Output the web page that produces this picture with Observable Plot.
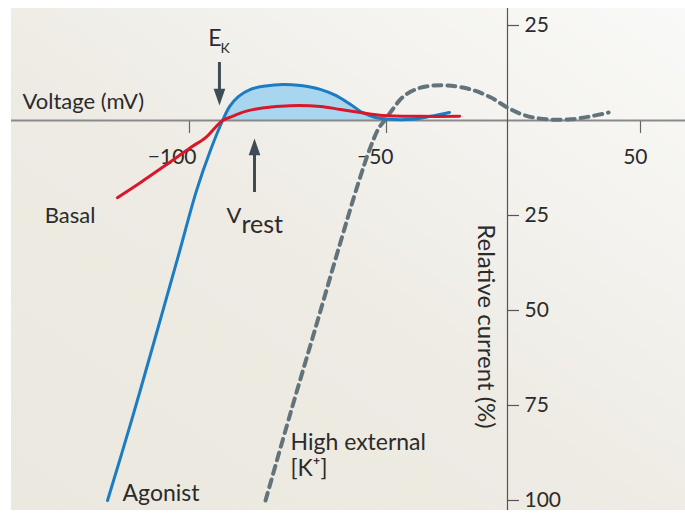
<!DOCTYPE html>
<html>
<head>
<meta charset="utf-8">
<script src="https://cdn.jsdelivr.net/npm/d3@7"></script>
<script src="https://cdn.jsdelivr.net/npm/@observablehq/plot@0.6"></script>
<style>
  html, body { margin: 0; padding: 0; background: #ffffff; }
  #wrap { position: relative; width: 685px; height: 513px; overflow: hidden; }
  #panel { position: absolute; left: 11px; top: 8px; width: 674px; height: 502px;
    background: linear-gradient(35deg, #ebe8df 0%, #eeebe4 45%, #f4f3ef 75%, #f9f9f7 100%); }
  #chart { position: absolute; left: 0; top: 0; }
</style>
</head>
<body>
<div id="wrap"><div id="panel"></div><div id="chart"></div></div>
<script>
// Voltage (mV) / relative current (%)
const agonistV = [-120.8, -114.7, -108.9, -102.8, -98.2, -94.7, -91.6, -89.8, -87.6, -84.5, -80.7, -76.4, -71.8, -66.8, -62.9, -59.1, -56.1, -52.8, -48.3, -40.1, -31.8, -24.0];
const agonistI = [-100, -78.9, -57.9, -35.5, -18.4, -7.9, 0, 3.7, 6.3, 8.2, 9.1, 9.5, 9.2, 8.2, 6.6, 4.2, 2.1, 0.8, 0.3, 0.3, 1.1, 2.1];

const basalV = [-118.3, -112.4, -106.1, -99.7, -95.9, -93.7, -91.6, -89.1, -85.8, -81.5, -74.4, -66.8, -61.7, -56.6, -50.8, -36.0, -19.8];
const basalI = [-20.3, -16.3, -11.8, -7.1, -4.5, -2.1, 0, 1.1, 2.4, 3.3, 3.9, 3.7, 2.9, 2.1, 1.3, 1.1, 1.1];

const highKV = [-80.7, -74.4, -68.0, -61.7, -57.1, -54.1, -52.0, -50.5, -47.5, -43.4, -38.0, -31.8, -24.8, -15.3, -7.0, 0, 6.8, 15.0, 23.7, 31.2, 38.0];
const highKI = [-100, -77.1, -54.5, -32.1, -16.3, -7.1, -2.1, 0, 2.9, 6.1, 8.2, 9.1, 9.2, 8.2, 6.1, 3.4, 1.3, 0.3, 0.3, 1.1, 2.1];

const xTicks = [-100, -50, 50];
const xTickLabels = ["\u2212100", "\u221250", "50"];
const yTicks = [25, -25, -50, -75, -100];
const yTickLabels = ["25", "25", "50", "75", "100"];

const ekVoltage = -92.4;     // E_K marker
const vrestVoltage = -83.5;  // V_rest marker

const agonist = agonistV.map((v, i) => ({v, i: agonistI[i]}));
const basal = basalV.map((v, i) => ({v, i: basalI[i]}));
const highK = highKV.map((v, i) => ({v, i: highKI[i]}));
const agonistFill = agonist.filter(d => d.v >= -91.6 && d.v <= -48.3);

const ink = "#2b2b2b";
const arrowCol = "#3e4d55";
const headDown = {
  draw(ctx, size) {
    const s = Math.sqrt(size / Math.PI);
    ctx.moveTo(0, 0);
    ctx.lineTo(-0.65 * s, -1.85 * s);
    ctx.lineTo(0.65 * s, -1.85 * s);
    ctx.closePath();
  }
};

const chart = Plot.plot({
  width: 685,
  height: 513,
  marginLeft: 11, marginTop: 8, marginRight: 0, marginBottom: 3,
  x: {type: "linear", domain: [-100, -50, 0, 50], range: [189, 386, 507, 640], axis: null},
  y: {type: "linear", domain: [-100, 25], range: [500, 25], axis: null},
  style: {background: "transparent", fontFamily: "Lato, 'Open Sans', sans-serif", color: ink},
  marks: [
    Plot.areaY(agonistFill, {x: "v", y: "i", curve: "catmull-rom", fill: "#a9d6ef"}),
    // axes
    Plot.ruleY([0], {stroke: "#8a8a8a", strokeWidth: 2}),
    Plot.ruleX([0], {stroke: "#555", strokeWidth: 1.2}),
    Plot.ruleX(xTicks, {x: d => d, y1: 0, y2: 0, insetTop: 1, insetBottom: -13, stroke: "#666", strokeWidth: 1.2}),
    Plot.ruleY(yTicks, {y: d => d, x1: 0, x2: 0, insetLeft: 0, insetRight: -12, stroke: "#555", strokeWidth: 1.2}),
    Plot.text(xTicks, {x: d => d, y: 0, text: (d, i) => xTickLabels[i], textAnchor: "end", lineAnchor: "bottom", dx: 7, dy: 43, fontSize: 21, fill: ink}),
    Plot.text(yTicks, {x: 0, y: d => d, text: (d, i) => yTickLabels[i], textAnchor: "start", dx: 17, fontSize: 21, fill: ink}),
    // curves
    Plot.line(highK, {x: "v", y: "i", curve: "catmull-rom", stroke: "#63737b", strokeWidth: 4, strokeDasharray: "8,6"}),
    Plot.line(agonist, {x: "v", y: "i", curve: "catmull-rom", stroke: "#1b7cc2", strokeWidth: 3}),
    Plot.line(basal, {x: "v", y: "i", curve: "catmull-rom", stroke: "#d8182a", strokeWidth: 3}),
    // E_K arrow
    Plot.ruleX([ekVoltage], {x: d => d, y1: 0, y2: 0, insetTop: -58, insetBottom: 26, stroke: arrowCol, strokeWidth: 3}),
    Plot.dot([ekVoltage], {x: d => d, y: 0, dy: -15, r: 9, symbol: headDown, fill: arrowCol, stroke: "none"}),
    Plot.text([ekVoltage], {x: d => d, y: 0, text: ["E"], textAnchor: "end", lineAnchor: "bottom", dx: 2, dy: -75, fontSize: 23, fill: ink}),
    Plot.text([ekVoltage], {x: d => d, y: 0, text: ["K"], textAnchor: "start", lineAnchor: "bottom", dx: 1, dy: -68, fontSize: 14, fill: ink}),
    // V_rest arrow
    Plot.ruleX([vrestVoltage], {x: d => d, y1: 0, y2: 0, insetTop: 30, insetBottom: -72, stroke: arrowCol, strokeWidth: 3}),
    Plot.dot([vrestVoltage], {x: d => d, y: 0, dy: 18, r: 9, rotate: 180, symbol: headDown, fill: arrowCol, stroke: "none"}),
    Plot.text([vrestVoltage], {x: d => d, y: 0, text: ["V"], textAnchor: "end", lineAnchor: "bottom", dx: -13, dy: 102, fontSize: 22, fill: ink}),
    Plot.text([vrestVoltage], {x: d => d, y: 0, text: ["rest"], textAnchor: "start", lineAnchor: "bottom", dx: -13, dy: 112, fontSize: 25, fill: ink}),
    // labels
    Plot.text(["Voltage (mV)"], {frameAnchor: "left", y: 0, text: d => d, textAnchor: "start", lineAnchor: "bottom", dx: 11, dy: -12, fontSize: 22, fill: ink}),
    Plot.text([basal[0]], {x: "v", y: "i", text: ["Basal"], textAnchor: "end", lineAnchor: "bottom", dx: -22, dy: 25, fontSize: 22, fill: ink}),
    Plot.text([agonist[0]], {x: "v", y: "i", text: ["Agonist"], textAnchor: "start", lineAnchor: "bottom", dx: 15, dy: 0, fontSize: 23, fill: ink}),
    Plot.text([highK[0]], {x: "v", y: "i", text: ["High external\n[K\u207A]"], textAnchor: "start", lineAnchor: "bottom", lineHeight: 1.1, dx: 25, dy: -25, fontSize: 23, fill: ink}),
    Plot.text([-50], {x: 0, y: d => d, text: ["Relative current (%)"], rotate: 90, textAnchor: "middle", dx: -22, dy: 16, fontSize: 24, fill: ink})
  ]
});
document.getElementById("chart").appendChild(chart);
</script>
</body>
</html>
